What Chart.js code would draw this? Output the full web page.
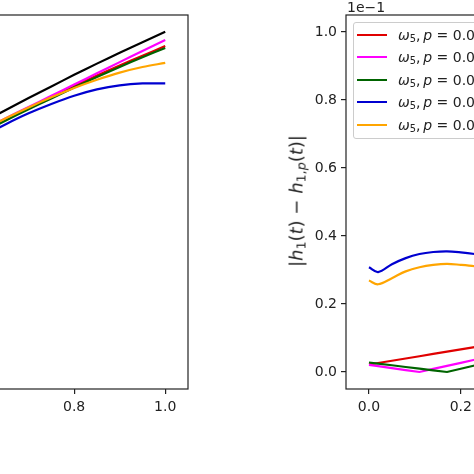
<!DOCTYPE html>
<html lang="en">
<head>
  <meta charset="utf-8">
  <title>h1 error vs t</title>
  <script src="https://cdn.jsdelivr.net/npm/chart.js@4.4.1/dist/chart.umd.min.js"></script>
  <style>
    html, body { margin: 0; padding: 0; background: #fff; }
    body { width: 474px; height: 474px; overflow: hidden; position: relative; font-family: "DejaVu Sans", sans-serif; color: #222; }
    #leftChart { position: absolute; left: -380px; top: 0; }
    #rightChart { position: absolute; left: 270px; top: 0; }
    .ylabel { position: absolute; left: 296px; top: 201px; transform: translate(-50%, -50%) rotate(-90deg); font-size: 18px; white-space: nowrap; }
    .offset { position: absolute; left: 347px; top: -1px; font-size: 14px; }
    #legend { position: absolute; left: 353px; top: 22px; width: 150px; height: 115px; border: 1px solid #ccc; border-radius: 3px; background: rgba(255,255,255,0.8); }
    .row { position: absolute; left: 0; height: 22px; display: flex; align-items: center; white-space: nowrap; font-size: 14px; }
    .swatch { width: 30px; height: 2px; margin-left: 3px; margin-right: 11px; }
    i { font-style: oblique; }
    sub { font-size: 70%; vertical-align: -0.25em; line-height: 0; }
  </style>
</head>
<body>
  <canvas id="leftChart" width="580" height="474"></canvas>
  <canvas id="rightChart" width="620" height="474"></canvas>
  <div class="ylabel">|<i>h</i><sub>1</sub>(<i>t</i>) − <i>h</i><sub>1,<i>p</i></sub>(<i>t</i>)|</div>
  <div class="offset">1e−1</div>
  <div id="legend"></div>
  <script>
    // series in the order matplotlib drew them (legend order)
    const colors = ['#e00000', '#ff00ff', '#006400', '#0000d0', '#ffa500'];
    // the reference crops the legend text after "0.0"
    const pLabels = ['0.0', '0.0', '0.0', '0.0', '0.0'];
    const xTicks = [0.0, 0.2, 0.4, 0.6, 0.8, 1.0];
    const yTicks = [0.0, 0.2, 0.4, 0.6, 0.8, 1.0];

    // left panel: only t >= ~0.64 is visible, no y ticks shown (axis units are fractions of the axis)
    const tLeft = [0.6, 0.65, 0.7, 0.75, 0.8, 0.85, 0.9, 0.95, 1.0];
    const leftRed     = [0.690, 0.721, 0.751, 0.781, 0.810, 0.838, 0.865, 0.891, 0.917];
    const leftMagenta = [0.693, 0.724, 0.754, 0.784, 0.814, 0.844, 0.874, 0.904, 0.933];
    const leftGreen   = [0.687, 0.718, 0.748, 0.777, 0.806, 0.834, 0.861, 0.887, 0.912];
    const leftBlue    = [0.676, 0.708, 0.737, 0.762, 0.784, 0.801, 0.812, 0.817, 0.817];
    const leftOrange  = [0.693, 0.724, 0.753, 0.780, 0.805, 0.827, 0.846, 0.861, 0.872];
    const leftBlack   = [0.714, 0.746, 0.778, 0.809, 0.840, 0.870, 0.899, 0.927, 0.955];

    // right panel: |h1(t) - h1,p(t)| in units of 1e-1, visible up to t ~ 0.23
    const tRight = [0, 0.02, 0.05, 0.08, 0.11, 0.14, 0.17, 0.20, 0.23, 0.26];
    const errRed     = [0.0220, 0.0264, 0.0331, 0.0398, 0.0464, 0.0531, 0.0597, 0.0664, 0.0731, 0.0797];
    const errMagenta = [0.0210, 0.0172, 0.0115, 0.0057, 0.0000, 0.0090, 0.0180, 0.0270, 0.0360, 0.0450];
    const errGreen   = [0.0280, 0.0247, 0.0198, 0.0148, 0.0099, 0.0049, 0.0000, 0.0096, 0.0192, 0.0288];
    const errBlue    = [0.308, 0.294, 0.317, 0.335, 0.347, 0.353, 0.355, 0.352, 0.347, 0.340];
    const errOrange  = [0.269, 0.258, 0.276, 0.296, 0.308, 0.315, 0.318, 0.315, 0.311, 0.305];

    const framePlugin = {
      id: 'frame',
      afterDraw(chart) {
        const { ctx, chartArea: a } = chart;
        ctx.save();
        ctx.strokeStyle = '#222';
        ctx.lineWidth = 1.2;
        ctx.strokeRect(a.left, a.top, a.right - a.left, a.bottom - a.top);
        ctx.restore();
      }
    };

    const tickFont = { family: 'DejaVu Sans', size: 14 };
    const axisGrid = { drawOnChartArea: false, drawTicks: true, tickLength: 5, color: '#222', lineWidth: 1.2 };

    function makeSet(xs, ys, color, i, n, smooth) {
      return {
        data: xs.map((x, k) => ({ x: x, y: ys[k] })),
        borderColor: color,
        borderWidth: 2.2,
        pointRadius: 0,
        fill: false,
        tension: smooth ? 0.35 : 0,
        order: n - i
      };
    }

    function xScale() {
      return {
        type: 'linear', min: -0.05, max: 1.05,
        afterBuildTicks: s => { s.ticks = xTicks.map(v => ({ value: v })); },
        afterFit: s => { s.height = 85; },
        border: { display: false },
        grid: axisGrid,
        ticks: { color: '#222', font: tickFont, padding: 5, maxRotation: 0, autoSkip: false, callback: v => v.toFixed(1) }
      };
    }

    // left chart
    const leftSeries = [leftRed, leftMagenta, leftGreen, leftBlue, leftOrange, leftBlack];
    const leftColors = colors.concat(['#000000']);
    new Chart(document.getElementById('leftChart'), {
      type: 'line',
      data: {
        datasets: leftSeries.map((ys, i) => makeSet(tLeft, ys, leftColors[i], i, leftSeries.length, true))
      },
      options: {
        responsive: false,
        animation: false,
        devicePixelRatio: 1,
        layout: { padding: { left: 67, right: 12, top: 15, bottom: 0 } },
        scales: {
          x: xScale(),
          y: { display: false, min: 0, max: 1 }
        },
        plugins: { legend: { display: false }, tooltip: { enabled: false } }
      },
      plugins: [framePlugin]
    });

    // right chart
    const rightSeries = [errRed, errMagenta, errGreen, errBlue, errOrange];
    new Chart(document.getElementById('rightChart'), {
      type: 'line',
      data: {
        datasets: rightSeries.map((ys, i) => {
          const d = makeSet(tRight, ys, colors[i], i, rightSeries.length, i >= 3);
          d.label = 'ω5, p = ' + pLabels[i];
          return d;
        })
      },
      options: {
        responsive: false,
        animation: false,
        devicePixelRatio: 1,
        layout: { padding: { left: 0, right: 39, top: 15, bottom: 0 } },
        scales: {
          x: xScale(),
          y: {
            type: 'linear', min: -0.05, max: 1.05,
            afterBuildTicks: s => { s.ticks = yTicks.map(v => ({ value: v })); },
            afterFit: s => { s.width = 76; },
            border: { display: false },
            grid: axisGrid,
            ticks: { color: '#222', font: tickFont, padding: 4, autoSkip: false, callback: v => v.toFixed(1) }
          }
        },
        plugins: { legend: { display: false }, tooltip: { enabled: false } }
      },
      plugins: [framePlugin]
    });

    // legend box drawn inside the right axes
    const legend = document.getElementById('legend');
    colors.forEach((c, i) => {
      const row = document.createElement('div');
      row.className = 'row';
      row.style.top = (0.5 + i * 22.6) + 'px';
      row.innerHTML = '<span class="swatch" style="background:' + c + '"></span>' +
        '<span><i>ω</i><sub>5</sub>,&thinsp;<i>p</i> = ' + pLabels[i] + '</span>';
      legend.appendChild(row);
    });
  </script>
</body>
</html>
